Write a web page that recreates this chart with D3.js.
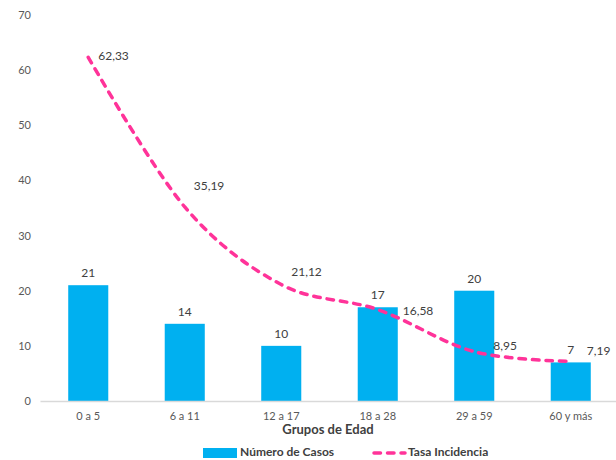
<!DOCTYPE html>
<html><head><meta charset="utf-8">
<script src="https://cdn.jsdelivr.net/npm/d3@7"></script>
<style>
body{margin:0;background:#fff;}
svg text{font-family:Lato,"Open Sans",sans-serif;}
</style></head>
<body><svg id="c" width="616" height="460"></svg>
<script>
const categories = ["0 a 5","6 a 11","12 a 17","18 a 28","29 a 59","60 y más"];
const casos = [21,14,10,17,20,7];
const tasa = [62.33,35.19,21.12,16.58,8.95,7.19];
const yTicks = [0,10,20,30,40,50,60,70];
// label placement offsets (style, not data)
const tasaLabelOffset = [[10,0],[9,-20],[10,-12],[25,2],[19,-5],[16,-9]];

const svg = d3.select("#c");
const x = d3.scaleBand().domain(categories).range([40,619]).paddingInner(0.585).paddingOuter(0.2925);
const y = d3.scaleLinear().domain([0,70]).range([401,15]);
const fmt = v => d3.format(".2f")(v).replace(".", ",");

// y axis
const ya = svg.append("g").attr("transform","translate(31,0)")
  .call(d3.axisLeft(y).tickValues(yTicks).tickSize(0).tickPadding(0));
ya.select(".domain").remove();
ya.selectAll("text").attr("fill","#595959").style("font-size","11px").style("font-family","Lato, sans-serif");

// bars
svg.append("g").selectAll("rect").data(categories).join("rect")
  .attr("x", d => x(d)).attr("width", x.bandwidth())
  .attr("y", (d,i) => y(casos[i])).attr("height", (d,i) => y(0) - y(casos[i]))
  .attr("fill","#00B0F0");

// x axis
const xa = svg.append("g").attr("transform","translate(0,401)")
  .call(d3.axisBottom(x).tickSize(0).tickPadding(11));
xa.select(".domain").attr("stroke","#d9d9d9").attr("stroke-width",1.3);
xa.selectAll("text").attr("fill","#595959").style("font-size","11px").style("font-family","Lato, sans-serif");

// bar labels
svg.append("g").selectAll("text").data(categories).join("text")
  .attr("x", d => x(d) + x.bandwidth()/2).attr("y", (d,i) => y(casos[i]) - 11)
  .attr("text-anchor","middle").attr("dominant-baseline","middle")
  .attr("fill","#404040").style("font-size","12px")
  .text((d,i) => casos[i]);

// line
const line = d3.line()
  .x((d,i) => x(categories[i]) + x.bandwidth()/2)
  .y(d => y(d))
  .curve(d3.curveCardinal.tension(0));
svg.append("path").datum(tasa).attr("d", line)
  .attr("fill","none").attr("stroke","#FF3399").attr("stroke-width",3.5)
  .attr("stroke-linecap","round")
  .attr("stroke-dasharray","6.5,7");

// line labels
svg.append("g").selectAll("text").data(tasa).join("text")
  .attr("x", (d,i) => x(categories[i]) + x.bandwidth()/2 + tasaLabelOffset[i][0])
  .attr("y", (d,i) => y(d) + tasaLabelOffset[i][1])
  .attr("dominant-baseline","middle")
  .attr("fill","#404040").style("font-size","12px")
  .text(d => fmt(d));

// axis title
svg.append("text").attr("x", 328).attr("y", 431).attr("text-anchor","middle")
  .attr("dominant-baseline","middle").attr("fill","#404040")
  .style("font-size","13px").style("font-weight","bold").text("Grupos de Edad");

// legend
const lg = svg.append("g");
lg.append("rect").attr("x",203).attr("y",448).attr("width",34).attr("height",10).attr("fill","#00B0F0");
lg.append("text").attr("x",240).attr("y",453).attr("dominant-baseline","middle")
  .attr("fill","#404040").style("font-size","12px").style("font-weight","bold").text("Número de Casos");
lg.append("line").attr("x1",374).attr("x2",405).attr("y1",453).attr("y2",453)
  .attr("stroke","#FF3399").attr("stroke-width",3.5).attr("stroke-linecap","round")
  .attr("stroke-dasharray","6.5,7");
lg.append("text").attr("x",408).attr("y",453).attr("dominant-baseline","middle")
  .attr("fill","#404040").style("font-size","12px").style("font-weight","bold").text("Tasa Incidencia");
</script></body></html>
